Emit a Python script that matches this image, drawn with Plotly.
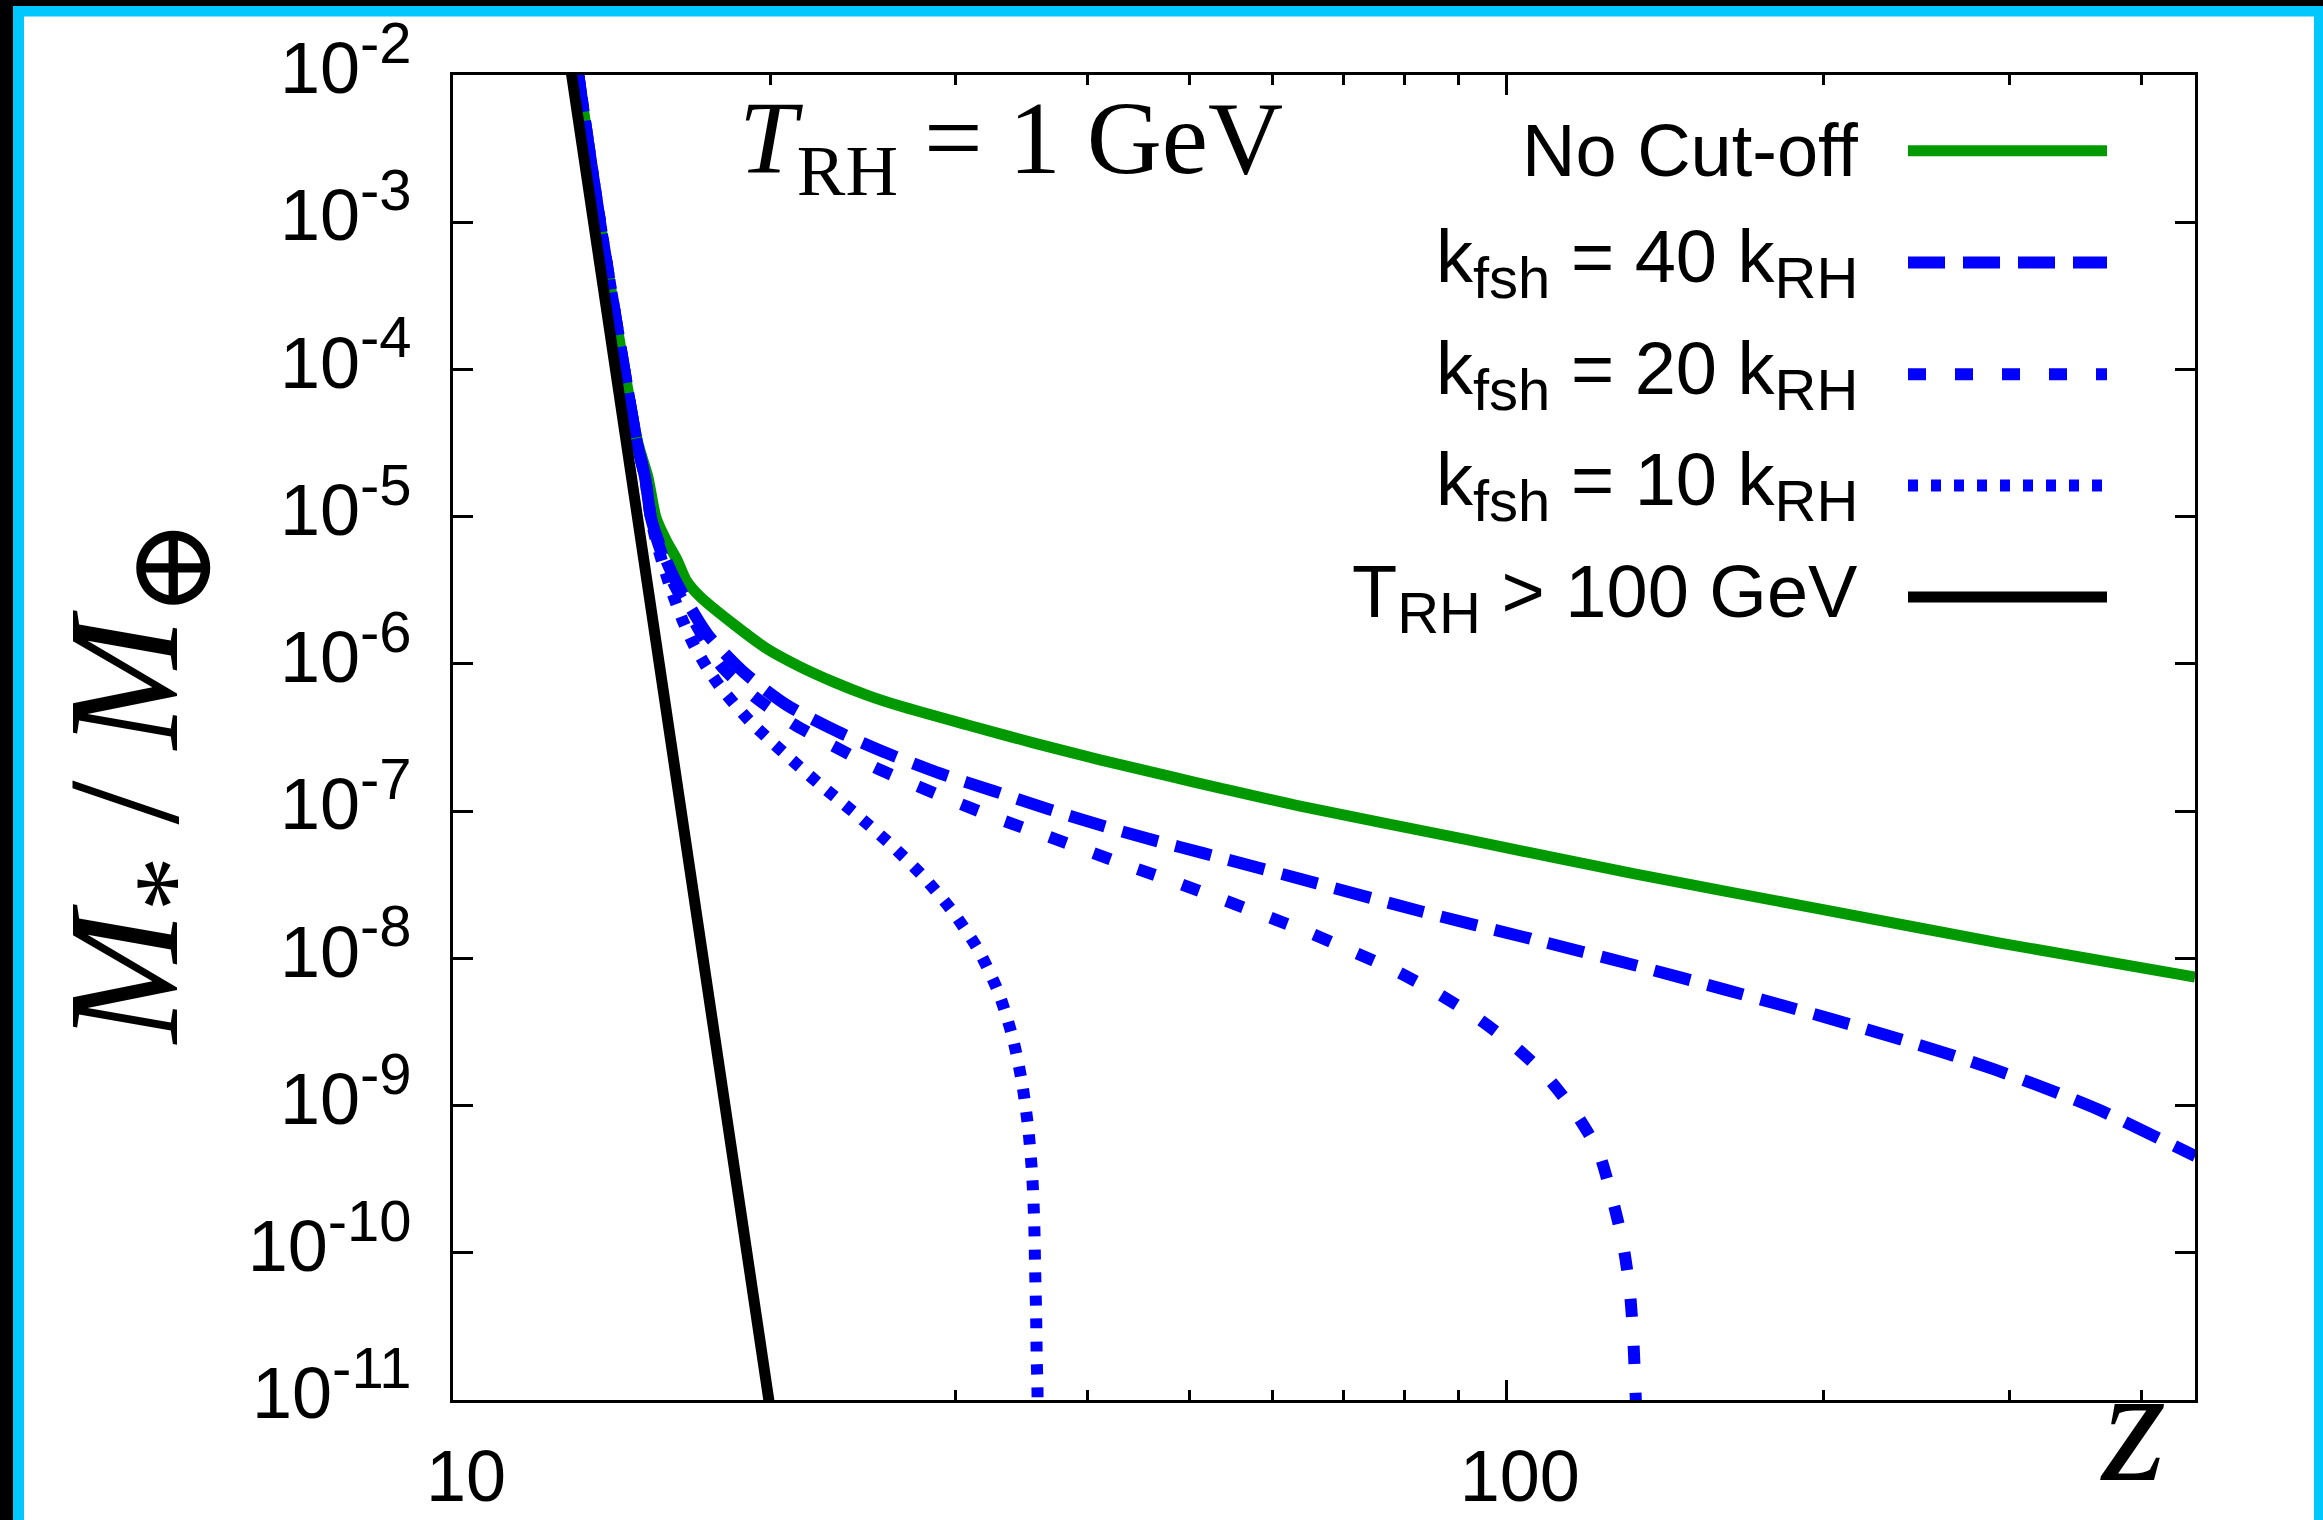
import plotly.graph_objects as go

# ---------------- data ----------------
z_nocut = [13.15, 13.79, 14.54, 14.98, 15.31, 15.58, 15.93, 16.32, 16.64, 17.16, 18.46, 19.85,
           21.36, 22.96, 24.70, 26.57, 30.73, 35.54, 41.12, 47.6, 53.46, 63.68, 91.67, 131.9,
           198.5, 294.0, 450.0]
m_nocut = [1.0e-2, 1.0e-3, 1.0e-4, 3.16e-5, 1.86e-5, 9.9e-6, 6.93e-6, 5.07e-6, 3.71e-6, 2.86e-6,
           1.86e-6, 1.27e-6, 9.55e-7, 7.55e-7, 6.14e-7, 5.17e-7, 3.86e-7, 2.91e-7, 2.23e-7, 1.74e-7,
           1.433e-7, 1.081e-7, 6.40e-8, 3.76e-8, 2.16e-8, 1.27e-8, 7.45e-9]

z_k40 = [13.15, 13.79, 14.54, 14.95, 15.21, 15.41, 15.65, 15.93, 16.25, 16.79, 17.47, 18.90,
         20.74, 23.13, 25.86, 29.00, 32.58, 36.61, 41.12, 46.20, 51.63, 66.04, 83.20, 105.3,
         132.9, 161.8, 204.6, 258.3, 290.2, 325.6, 364.3, 450.3]
m_k40 = [1.0e-2, 1.0e-3, 1.0e-4, 3.16e-5, 1.86e-5, 9.9e-6, 6.93e-6, 5.07e-6, 3.71e-6, 2.43e-6,
         1.56e-6, 8.7e-7, 5.25e-7, 3.49e-7, 2.46e-7, 1.80e-7, 1.37e-7, 1.04e-7, 8.04e-8, 6.35e-8,
         5.16e-8, 3.23e-8, 2.07e-8, 1.36e-8, 8.9e-9, 6.08e-9, 3.82e-9, 2.32e-9, 1.76e-9, 1.30e-9,
         9.4e-10, 4.53e-10]

z_k20 = [13.15, 13.79, 14.54, 14.95, 15.21, 15.41, 15.62, 15.86, 16.14, 16.79, 17.95, 19.31,
         21.02, 22.96, 25.11, 27.58, 30.30, 33.32, 36.64, 40.35, 44.37, 48.85, 64.85, 71.29,
         78.27, 85.59, 93.33, 101.2, 109.1, 116.2, 122.2, 125.9, 128.9, 130.8, 131.8, 132.4, 132.7]
m_k20 = [1.0e-2, 1.0e-3, 1.0e-4, 3.16e-5, 1.86e-5, 9.9e-6, 6.93e-6, 5.07e-6, 3.71e-6, 2.18e-6,
         9.8e-7, 6.01e-7, 3.92e-7, 2.77e-7, 1.99e-7, 1.48e-7, 1.12e-7, 8.6e-8, 6.76e-8, 5.24e-8,
         4.10e-8, 3.23e-8, 1.50e-8, 1.12e-8, 8.3e-9, 5.89e-9, 4.03e-9, 2.61e-9, 1.58e-9, 8.9e-10,
         4.85e-10, 2.36e-10, 1.16e-10, 5.69e-11, 2.77e-11, 1.33e-11, 8.5e-12]

z_k10 = [13.15, 13.79, 14.54, 14.95, 15.21, 15.41, 15.58, 15.83, 16.14, 16.53, 16.93, 17.41,
         17.91, 19.12, 20.60, 22.24, 24.06, 25.98, 27.93, 29.81, 31.52, 32.94, 33.96, 34.67,
         35.15, 35.45, 35.61, 35.68, 35.76, 35.81, 35.86, 35.88]
m_k10 = [1.0e-2, 1.0e-3, 1.0e-4, 3.16e-5, 1.86e-5, 9.9e-6, 6.93e-6, 4.69e-6, 3.07e-6, 1.95e-6,
         1.34e-6, 9.5e-7, 7.06e-7, 4.10e-7, 2.49e-7, 1.54e-7, 9.7e-8, 6.0e-8, 3.61e-8, 2.07e-8,
         1.14e-8, 5.86e-9, 2.93e-9, 1.44e-9, 6.98e-10, 3.40e-10, 1.64e-10, 7.94e-11, 3.83e-11,
         1.86e-11, 1.29e-11, 8.5e-12]

z_highT = [12.8, 12.96, 19.94, 20.2]
m_highT = [1.8e-2, 1.0e-2, 1.0e-11, 5.3e-12]

SUBSZ = "font-size:58px"
series_names = ["No Cut-off",
                "k<sub><span style='%s'>fsh</span></sub> = 40 k<sub><span style='%s'>RH</span></sub>" % (SUBSZ, SUBSZ),
                "k<sub><span style='%s'>fsh</span></sub> = 20 k<sub><span style='%s'>RH</span></sub>" % (SUBSZ, SUBSZ),
                "k<sub><span style='%s'>fsh</span></sub> = 10 k<sub><span style='%s'>RH</span></sub>" % (SUBSZ, SUBSZ),
                "T<sub><span style='%s'>RH</span></sub> > 100 GeV" % SUBSZ]

x_tickvals = [10, 100]
x_ticktext = ["10", "100"]
x_minor = [20, 30, 40, 50, 60, 70, 80, 90, 200, 300, 400]
y_exponents = [-2, -3, -4, -5, -6, -7, -8, -9, -10, -11]
y_tickvals = [10.0 ** e for e in y_exponents]
y_ticktext = ["10<sup><span style=\"font-size:58px\">%d</span></sup>" % e for e in y_exponents]

# ---------------- styles ----------------
W, H = 2323, 1520
L, R, T, B = 453, 128, 75, 120
PW, PH = W - L - R, H - T - B

def px(x):
    return (x - L) / PW

def py(y):
    return (H - B - y) / PH

GREEN = "#009a00"
BLUE = "#0000ff"
styles = [
    dict(color=GREEN, width=11, dash="solid"),
    dict(color=BLUE, width=12, dash="37px,18px"),
    dict(color=BLUE, width=12, dash="18px,29px"),
    dict(color=BLUE, width=12, dash="10px,13px"),
    dict(color="black", width=11, dash="solid"),
]
shapes_kind = ["spline", "spline", "spline", "spline", "linear"]
data = [(z_nocut, m_nocut), (z_k40, m_k40), (z_k20, m_k20), (z_k10, m_k10), (z_highT, m_highT)]

fig = go.Figure()
for (zz, mm), name, st, shp in zip(data, series_names, styles, shapes_kind):
    line = dict(st, shape=shp)
    if shp == "spline":
        line["smoothing"] = 0.7
    fig.add_trace(go.Scatter(x=zz, y=mm, mode="lines", name=name, line=line,
                             showlegend=False, hoverinfo="skip"))

sans = "Liberation Sans, Arial, Helvetica, sans-serif"
serif = "Liberation Serif, Times New Roman, DejaVu Serif, serif"

axis_common = dict(
    type="log", showline=True, linecolor="black", linewidth=3, mirror="ticks",
    ticks="inside", ticklen=20, tickwidth=3, tickcolor="black",
    showgrid=False, zeroline=False, automargin=False,
    tickfont=dict(family=sans, size=72, color="black"),
)
fig.update_xaxes(**axis_common, range=[1, 2.6532], tickvals=x_tickvals, ticktext=x_ticktext,
                 ticklabelstandoff=12, ticklabelshift=13,
                 minor=dict(tickvals=x_minor, ticks="inside", ticklen=10, tickwidth=3,
                            tickcolor="black", showgrid=False))
fig.update_yaxes(**axis_common, range=[-11, -2], tickvals=y_tickvals, ticktext=y_ticktext,
                 ticklabelstandoff=24, ticklabelshift=-7)

shapes = []
# frame bands of the picture
for (x0, x1, y0, y1, col) in [(0, 13, 0, H, "black"), (0, W, 0, 6, "black"),
                              (13, 24, 6, H, "#00c8ff"), (13, W, 6, 16.5, "#00c8ff"),
                              (2314, W, 6, H, "#00c8ff")]:
    shapes.append(dict(type="rect", xref="paper", yref="paper", x0=px(x0), x1=px(x1),
                       y0=py(y1), y1=py(y0), fillcolor=col, line=dict(width=0), layer="above"))

# legend (text on the left, sample on the right)
legend_y = [150.7, 262.4, 374.2, 485.6, 597.0]
annotations = []
for name, st, ly in zip(series_names, styles, legend_y):
    shapes.append(dict(type="line", xref="paper", yref="paper", x0=px(1908), x1=px(2107),
                       y0=py(ly), y1=py(ly), line=dict(color=st["color"], width=st["width"],
                                                        dash=st["dash"])))
    annotations.append(dict(xref="paper", yref="paper", x=px(1860), y=py(ly), text=name,
                            showarrow=False, xanchor="right", yanchor="middle",
                            font=dict(family=sans, size=74, color="black")))

annotations.append(dict(xref="paper", yref="paper", x=px(737), y=py(146),
                        text="<i>T</i><sub>RH</sub> = 1 GeV", showarrow=False,
                        xanchor="left", yanchor="middle",
                        font=dict(family=serif, size=104, color="black")))
annotations.append(dict(xref="paper", yref="paper", x=px(136), y=py(782),
                        text="<i>M</i><sub>*</sub>\u2009/\u2009<i>M</i><sub><span style='font-size:118px'>⊕</span></sub>",
                        showarrow=False,
                        textangle=-90, xanchor="center", yanchor="middle",
                        font=dict(family=serif, size=158, color="black")))
annotations.append(dict(xref="paper", yref="paper", x=px(2133), y=py(1518),
                        text="<i>z</i>", showarrow=False, xanchor="center", yanchor="bottom",
                        font=dict(family=serif, size=165, color="black")))

fig.update_layout(
    width=W, height=H, autosize=False,
    margin=dict(l=L, r=R, t=T, b=B, pad=0),
    paper_bgcolor="white", plot_bgcolor="white", showlegend=False,
    font=dict(family=sans, size=72, color="black"),
    shapes=shapes, annotations=annotations,
)

fig.write_html("out.html", post_script="document.body.style.margin='0';")
